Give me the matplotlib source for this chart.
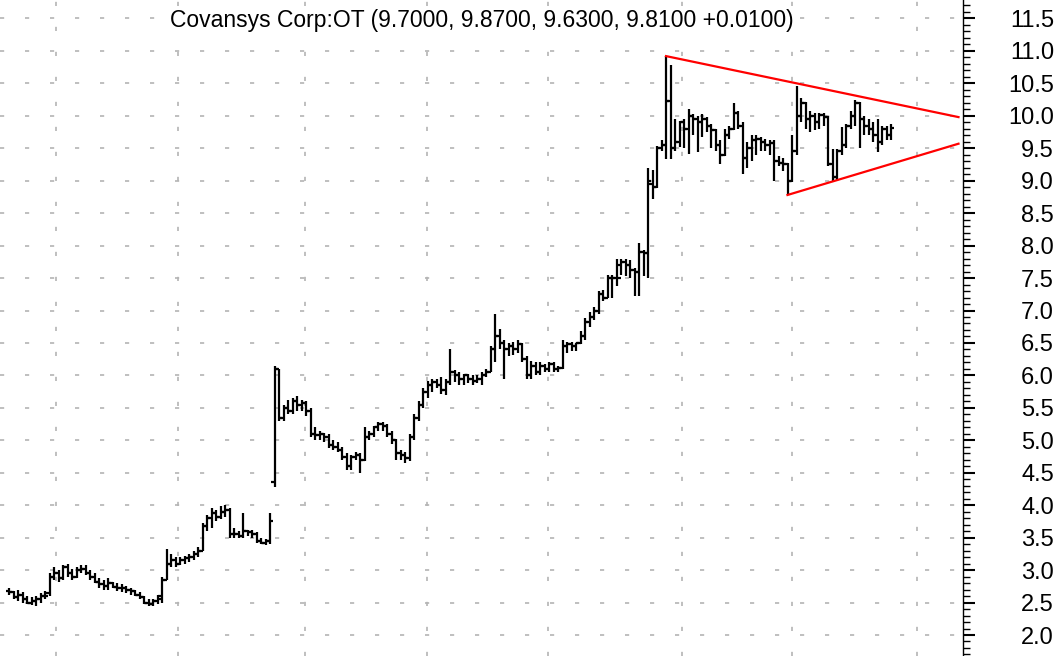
import numpy as np
import matplotlib.pyplot as plt
from matplotlib.ticker import MultipleLocator

# daily bars (open, high, low, close)
opens = [2.68, 2.66, 2.58, 2.62, 2.55, 2.50, 2.52, 2.55, 2.60, 2.65,
         2.90, 2.95, 2.88, 3.05, 2.95, 2.90, 3.00, 3.02, 2.95, 2.90,
         2.82, 2.78, 2.75, 2.80, 2.74, 2.72, 2.72, 2.70, 2.68, 2.62,
         2.58, 2.50, 2.47, 2.52, 2.55, 2.85, 3.10, 3.15, 3.10, 3.15,
         3.18, 3.20, 3.25, 3.30, 3.68, 3.80, 3.88, 3.82, 3.90, 3.92,
         3.55, 3.55, 3.52, 3.60, 3.58, 3.55, 3.45, 3.42, 3.45, 4.35,
         6.10, 5.35, 5.50, 5.45, 5.60, 5.55, 5.58, 5.45, 5.10, 5.08,
         5.10, 5.05, 4.92, 4.90, 4.85, 4.75, 4.60, 4.75, 4.78, 4.70,
         5.05, 5.10, 5.20, 5.25, 5.22, 5.10, 5.00, 4.80, 4.78, 4.72,
         5.05, 5.35, 5.55, 5.75, 5.85, 5.90, 5.85, 5.78, 5.90, 6.05,
         6.00, 5.95, 6.00, 5.95, 5.92, 5.95, 6.00, 6.05, 6.40, 6.60,
         6.50, 6.40, 6.45, 6.40, 6.48, 6.25, 6.00, 6.15, 6.05, 6.15,
         6.10, 6.18, 6.10, 6.12, 6.45, 6.48, 6.45, 6.50, 6.60, 6.82,
         6.90, 7.00, 7.25, 7.20, 7.50, 7.50, 7.50, 7.75, 7.70, 7.62,
         7.60, 7.90, 7.88, 8.95, 8.90, 9.50, 9.55, 10.23, 9.50, 9.60,
         9.90, 9.80, 10.00, 9.95, 9.90, 9.95, 9.85, 9.78, 9.55, 9.40,
         9.70, 9.80, 10.05, 9.85, 9.35, 9.50, 9.62, 9.65, 9.60, 9.55,
         9.58, 9.30, 9.28, 9.25, 9.00, 9.45, 10.00, 10.20, 9.95, 10.00,
         9.90, 10.02, 9.98, 9.25, 9.05, 9.45, 9.55, 9.85, 10.00, 10.20,
         9.95, 9.85, 9.80, 9.70, 9.60, 9.80, 9.70]
highs = [2.72, 2.68, 2.70, 2.66, 2.60, 2.58, 2.60, 2.65, 2.68, 2.95,
         3.05, 3.00, 3.08, 3.10, 3.02, 3.05, 3.08, 3.08, 3.00, 2.95,
         2.88, 2.85, 2.88, 2.82, 2.80, 2.78, 2.75, 2.72, 2.70, 2.66,
         2.60, 2.55, 2.55, 2.62, 2.90, 3.32, 3.25, 3.20, 3.20, 3.22,
         3.25, 3.30, 3.35, 3.72, 3.85, 3.95, 3.92, 3.98, 4.00, 3.95,
         3.65, 3.60, 3.88, 3.62, 3.62, 3.58, 3.50, 3.48, 3.88, 6.15,
         6.10, 5.55, 5.62, 5.65, 5.68, 5.62, 5.60, 5.50, 5.20, 5.15,
         5.12, 5.10, 5.00, 4.98, 4.90, 4.80, 4.78, 4.82, 4.80, 5.20,
         5.15, 5.22, 5.28, 5.28, 5.25, 5.15, 5.02, 4.85, 4.82, 5.10,
         5.40, 5.60, 5.80, 5.92, 5.95, 5.95, 5.98, 5.95, 6.40, 6.08,
         6.05, 6.02, 6.02, 6.00, 6.00, 6.05, 6.10, 6.45, 6.95, 6.72,
         6.55, 6.50, 6.52, 6.55, 6.50, 6.30, 6.22, 6.20, 6.20, 6.18,
         6.20, 6.20, 6.15, 6.55, 6.52, 6.52, 6.50, 6.68, 6.88, 6.98,
         7.05, 7.30, 7.32, 7.55, 7.55, 7.80, 7.80, 7.80, 7.78, 7.65,
         8.04, 7.93, 9.20, 9.16, 9.54, 9.62, 10.92, 10.79, 9.95, 9.92,
         9.95, 10.10, 10.03, 10.00, 10.03, 9.98, 9.88, 9.80, 9.62, 9.80,
         9.85, 10.20, 10.08, 9.90, 9.60, 9.70, 9.70, 9.68, 9.65, 9.62,
         9.62, 9.38, 9.35, 9.28, 9.70, 10.46, 10.28, 10.22, 10.08, 10.05,
         10.05, 10.05, 10.00, 9.49, 9.49, 9.82, 9.88, 10.08, 10.24, 10.22,
         10.00, 9.95, 9.90, 9.95, 9.85, 9.85, 9.87]
lows = [2.62, 2.55, 2.52, 2.50, 2.47, 2.46, 2.45, 2.50, 2.55, 2.60,
        2.85, 2.82, 2.85, 2.90, 2.85, 2.88, 2.95, 2.92, 2.85, 2.80,
        2.72, 2.70, 2.70, 2.72, 2.68, 2.66, 2.65, 2.62, 2.60, 2.55,
        2.48, 2.44, 2.45, 2.48, 2.50, 2.85, 3.05, 3.05, 3.08, 3.10,
        3.12, 3.15, 3.20, 3.30, 3.60, 3.65, 3.75, 3.78, 3.82, 3.50,
        3.50, 3.50, 3.50, 3.52, 3.50, 3.42, 3.40, 3.38, 3.40, 4.28,
        5.30, 5.30, 5.40, 5.40, 5.45, 5.45, 5.38, 5.05, 5.00, 5.00,
        4.98, 4.88, 4.85, 4.82, 4.70, 4.55, 4.55, 4.70, 4.50, 4.68,
        5.00, 5.05, 5.15, 5.15, 5.05, 4.95, 4.70, 4.70, 4.65, 4.68,
        5.00, 5.30, 5.50, 5.65, 5.75, 5.80, 5.72, 5.70, 5.85, 5.90,
        5.85, 5.85, 5.88, 5.85, 5.88, 5.85, 5.98, 6.05, 6.20, 6.40,
        5.95, 6.30, 6.32, 6.35, 6.20, 5.95, 5.95, 6.00, 6.00, 6.05,
        6.05, 6.05, 6.05, 6.10, 6.35, 6.38, 6.38, 6.48, 6.55, 6.75,
        6.85, 6.95, 7.15, 7.20, 7.20, 7.37, 7.55, 7.53, 7.50, 7.22,
        7.22, 7.53, 7.50, 8.72, 8.88, 9.45, 9.34, 9.34, 9.46, 9.52,
        9.50, 9.41, 9.70, 9.44, 9.67, 9.75, 9.50, 9.46, 9.26, 9.38,
        9.65, 9.78, 9.80, 9.10, 9.20, 9.30, 9.40, 9.46, 9.45, 9.40,
        9.00, 9.22, 9.15, 8.78, 8.98, 9.40, 9.90, 9.80, 9.75, 9.78,
        9.80, 9.85, 9.23, 9.00, 9.00, 9.40, 9.50, 9.80, 9.85, 9.51,
        9.70, 9.70, 9.60, 9.44, 9.55, 9.62, 9.63]
closes = [2.66, 2.58, 2.62, 2.55, 2.50, 2.52, 2.55, 2.60, 2.60, 2.90,
          2.95, 2.88, 3.05, 2.95, 2.90, 3.00, 3.02, 2.95, 2.90, 2.82,
          2.78, 2.75, 2.80, 2.74, 2.72, 2.72, 2.70, 2.68, 2.62, 2.58,
          2.50, 2.47, 2.52, 2.60, 2.85, 3.10, 3.15, 3.10, 3.15, 3.18,
          3.20, 3.25, 3.30, 3.68, 3.80, 3.88, 3.82, 3.90, 3.92, 3.55,
          3.55, 3.52, 3.60, 3.58, 3.55, 3.45, 3.42, 3.45, 3.75, 6.10,
          5.35, 5.50, 5.45, 5.60, 5.55, 5.58, 5.45, 5.10, 5.08, 5.10,
          5.05, 4.92, 4.90, 4.85, 4.75, 4.60, 4.75, 4.78, 4.70, 5.05,
          5.10, 5.20, 5.25, 5.22, 5.10, 5.00, 4.80, 4.78, 4.72, 5.05,
          5.35, 5.55, 5.75, 5.85, 5.90, 5.85, 5.78, 5.90, 6.05, 6.00,
          5.95, 6.00, 5.95, 5.92, 5.95, 6.00, 6.05, 6.40, 6.60, 6.50,
          6.40, 6.45, 6.40, 6.48, 6.25, 6.00, 6.15, 6.05, 6.15, 6.10,
          6.18, 6.10, 6.12, 6.45, 6.48, 6.45, 6.50, 6.60, 6.82, 6.90,
          7.00, 7.25, 7.20, 7.50, 7.50, 7.70, 7.75, 7.70, 7.62, 7.60,
          7.90, 7.88, 9.00, 8.90, 9.50, 9.55, 10.23, 9.50, 9.60, 9.90,
          9.80, 10.00, 9.95, 9.90, 9.95, 9.85, 9.78, 9.55, 9.40, 9.70,
          9.80, 10.05, 9.85, 9.35, 9.50, 9.62, 9.65, 9.60, 9.55, 9.58,
          9.30, 9.28, 9.25, 9.00, 9.45, 10.00, 10.20, 9.95, 10.00, 9.90,
          10.02, 9.98, 9.25, 9.05, 9.45, 9.55, 9.85, 10.00, 10.20, 9.95,
          9.85, 9.80, 9.70, 9.60, 9.80, 9.70, 9.81]

# triangle drawn on the chart (bar index, price)
upper_x = [146, 211]
upper_y = [10.92, 9.98]
lower_x = [173, 211]
lower_y = [8.78, 9.57]

# bar indices where the vertical dotted grid sits
vgrid_x = [10.4, 37.6, 65.8, 92.9, 119.8, 149.6, 174.0, 201.8]

title = "Covansys Corp:OT (9.7000, 9.8700, 9.6300, 9.8100 +0.0100)"

plt.rcParams['font.family'] = ['Liberation Sans', 'DejaVu Sans']

fig = plt.figure(figsize=(10.61, 6.56), dpi=100)
ax = fig.add_axes([0, 0, 963 / 1061, 1])

x = np.arange(len(closes))
o = np.array(opens)
h = np.array(highs)
l = np.array(lows)
c = np.array(closes)
tick = 0.75
ax.vlines(x, l, h, color='black', lw=1.6)
ax.hlines(o, x - tick, x, color='black', lw=1.6)
ax.hlines(c, x, x + tick, color='black', lw=1.6)

ax.plot(upper_x, upper_y, color='#ff0000', lw=1.6)
ax.plot(lower_x, lower_y, color='#ff0000', lw=1.6)

ax.set_xlim(-2, 212)
ax.set_ylim(2 - 21 / 64.9, 2 + 635 / 64.9)

for lev in np.arange(2.0, 11.51, 0.5):
    ax.axhline(lev, color='#b4b4b4', lw=1.2, dashes=(2.5, 12.5), zorder=0)
for gx in vgrid_x:
    ax.axvline(gx, color='#b4b4b4', lw=1.2, dashes=(2.5, 12.5), zorder=0)

for s in ['left', 'top', 'bottom']:
    ax.spines[s].set_visible(False)
ax.spines['right'].set_linewidth(1.0)
ax.set_xticks([])
ax.yaxis.tick_right()
ax.yaxis.set_major_locator(MultipleLocator(0.5))
ax.yaxis.set_minor_locator(MultipleLocator(0.1))
ax.yaxis.set_major_formatter(lambda v, p: f"{v:.1f}")
ax.tick_params(axis='y', which='major', length=8.6, width=1.5, direction='out',
               labelsize=17, pad=57)
ax.tick_params(axis='y', which='minor', length=5, width=1.0, direction='out')
for lab in ax.get_yticklabels():
    lab.set_horizontalalignment('right')

ax.text(0.5, 0.968, title, transform=ax.transAxes, ha='center', va='center',
        fontsize=16.5, bbox=dict(facecolor='white', edgecolor='none', pad=1))

fig.savefig('out.png', dpi=100)
